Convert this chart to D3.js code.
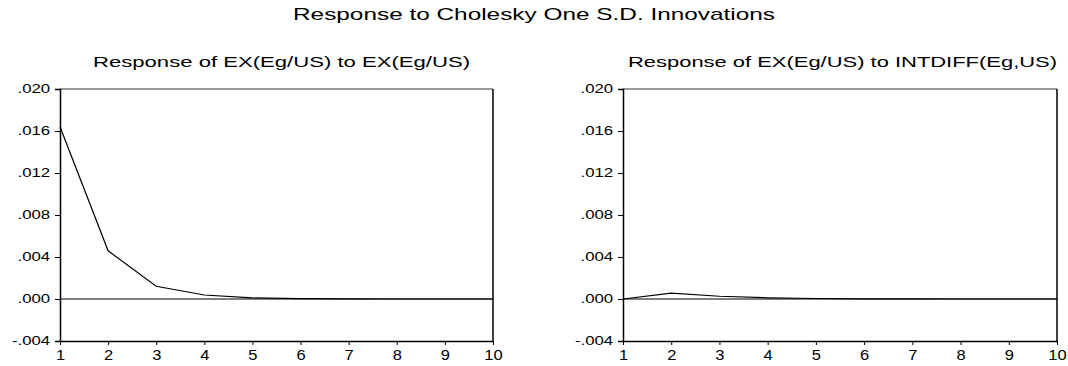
<!DOCTYPE html>
<html>
<head>
<meta charset="utf-8">
<script src="https://cdn.jsdelivr.net/npm/d3@7"></script>
<style>
  body { margin: 0; background: #fff; }
  text { font-family: "Liberation Sans", Arial, sans-serif; fill: #000; }
</style>
</head>
<body>
<svg id="chart" width="1068" height="366"></svg>
<script>
// periods on the x axis
const periods = [1, 2, 3, 4, 5, 6, 7, 8, 9, 10];
// response of EX(Eg/US) to its own shock
const exToEx = [0.01640, 0.00459, 0.00121, 0.00038, 0.00010, 0.00003, 0.00001, 0.0, 0.0, 0.0];
// response of EX(Eg/US) to INTDIFF(Eg,US)
const exToIntdiff = [0.0, 0.00055, 0.00026, 0.00011, 0.00005, 0.00002, 0.00001, 0.0, 0.0, 0.0];
const yTicks = [-0.004, 0.000, 0.004, 0.008, 0.012, 0.016, 0.020];
const mainTitle = "Response to Cholesky One S.D. Innovations";
const panelTitles = ["Response of EX(Eg/US) to EX(Eg/US)", "Response of EX(Eg/US) to INTDIFF(Eg,US)"];

const svg = d3.select("#chart");

// the original output has wide, stretched lettering
svg.append("text")
  .attr("x", 534).attr("y", 20)
  .attr("text-anchor", "middle")
  .attr("textLength", 482)
  .attr("lengthAdjust", "spacingAndGlyphs")
  .style("font-size", "17px")
  .text(mainTitle);

const panels = [
  { left: 60, right: 493, series: exToEx, title: panelTitles[0], titleW: 377, titleX: 281.5 },
  { left: 623, right: 1057, series: exToIntdiff, title: panelTitles[1], titleW: 429, titleX: 842.5 }
];

const plotTop = 89, plotBottom = 341;

// EViews style: no leading zero, plain hyphen
const fmt = v => d3.format(".3f")(v).replace("0.", ".").replace("\u2212", "-");

panels.forEach(p => {
  const x = d3.scaleLinear().domain([1, 10]).range([p.left, p.right]);
  const y = d3.scaleLinear().domain([-0.004, 0.020]).range([plotBottom, plotTop]);
  const g = svg.append("g");

  g.append("text")
    .attr("x", p.titleX).attr("y", 67)
    .attr("text-anchor", "middle")
    .attr("textLength", p.titleW)
    .attr("lengthAdjust", "spacingAndGlyphs")
    .style("font-size", "14.5px")
    .text(p.title);

  // frame: grey top, black right
  g.append("line")
    .attr("x1", p.left).attr("x2", p.right)
    .attr("y1", plotTop).attr("y2", plotTop)
    .attr("stroke", "#777").attr("stroke-width", 1.5);
  g.append("line")
    .attr("x1", p.right).attr("x2", p.right)
    .attr("y1", plotTop).attr("y2", plotBottom)
    .attr("stroke", "#000").attr("stroke-width", 1.5);

  // zero line
  g.append("line")
    .attr("x1", p.left).attr("x2", p.right)
    .attr("y1", y(0)).attr("y2", y(0))
    .attr("stroke", "#000").attr("stroke-width", 1);

  const yAxis = d3.axisLeft(y).tickValues(yTicks).tickSize(5).tickPadding(2).tickFormat(fmt);
  g.append("g")
    .attr("transform", `translate(${p.left},0)`)
    .call(yAxis)
    .call(a => a.select(".domain").attr("stroke-width", 1.5))
    .call(a => a.selectAll("text")
      .attr("transform", "scale(1.4,1)")
      .style("font-size", "12px")
      .style("font-family", "'Liberation Sans', Arial, sans-serif"));

  const xAxis = d3.axisBottom(x).tickValues(periods).tickSize(4).tickSizeOuter(0).tickPadding(4).tickFormat(d3.format("d"));
  g.append("g")
    .attr("transform", `translate(0,${plotBottom})`)
    .call(xAxis)
    .call(a => a.select(".domain").attr("stroke-width", 1.5))
    .call(a => a.selectAll("text")
      .attr("transform", "scale(1.1,1)")
      .style("font-size", "15px")
      .style("font-family", "'Liberation Sans', Arial, sans-serif"));

  const line = d3.line()
    .x((d, i) => x(periods[i]))
    .y(d => y(d));

  g.append("path")
    .datum(p.series)
    .attr("fill", "none")
    .attr("stroke", "#000")
    .attr("stroke-width", 1.2)
    .attr("d", line);
});
</script>
</body>
</html>
